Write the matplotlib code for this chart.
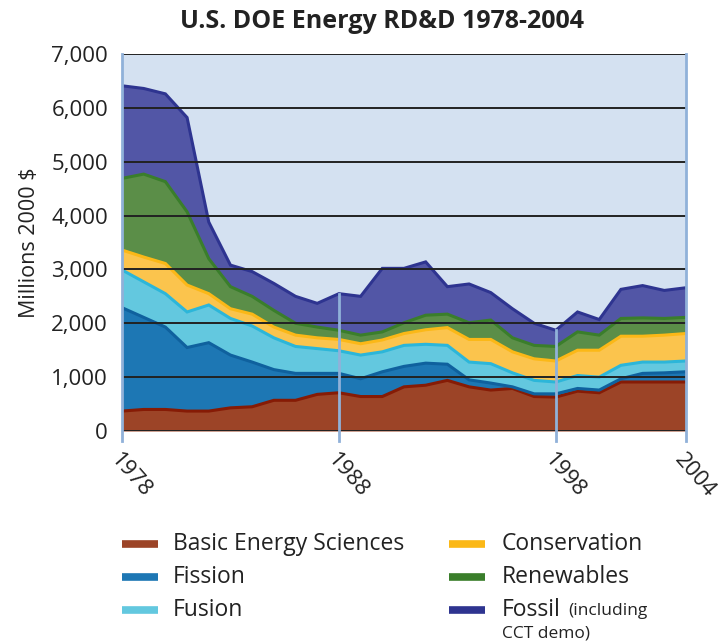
import matplotlib
matplotlib.use("Agg")
import matplotlib.pyplot as plt
import numpy as np
from matplotlib.lines import Line2D

plt.rcParams['font.family'] = ['Open Sans', 'DejaVu Sans']

years = list(range(1978, 2005))
series_names = ["Basic Energy Sciences", "Fission", "Fusion", "Conservation", "Renewables", "Fossil"]
basic = [370, 400, 400, 370, 370, 430, 450, 570, 570, 680, 710, 640, 640, 820, 850, 940, 820, 760, 790, 640, 630, 740, 710, 910, 910, 910, 910]
fission = [1920, 1710, 1530, 1180, 1270, 980, 830, 570, 500, 390, 360, 330, 460, 380, 410, 300, 130, 130, 30, 50, 60, 50, 50, 60, 160, 170, 190]
fusion = [700, 660, 620, 660, 700, 680, 670, 590, 500, 460, 420, 440, 370, 390, 350, 350, 330, 360, 260, 250, 220, 240, 240, 250, 210, 200, 200]
conservation = [370, 460, 560, 500, 210, 180, 220, 200, 210, 200, 210, 210, 220, 220, 270, 330, 420, 450, 390, 400, 390, 470, 500, 540, 480, 500, 510]
renewables = [1330, 1540, 1520, 1360, 650, 410, 330, 310, 220, 200, 170, 160, 150, 200, 270, 250, 310, 360, 260, 250, 270, 340, 280, 330, 340, 310, 300]
fossil = [1720, 1590, 1630, 1750, 680, 400, 460, 500, 500, 440, 680, 720, 1180, 1010, 990, 510, 720, 510, 540, 410, 300, 370, 290, 540, 600, 520, 550]
yticks = [0, 1000, 2000, 3000, 4000, 5000, 6000, 7000]
ytick_labels = ["0", "1,000", "2,000", "3,000", "4,000", "5,000", "6,000", "7,000"]
xticks = [1978, 1988, 1998, 2004]

fills = ["#9c4427", "#1d77b4", "#63c8df", "#fbc44d", "#5b8e48", "#5256a6"]
edges = ["#861b05", "#0f619e", "#2cb6d9", "#fbb817", "#3a7e2b", "#2e3490"]
legend_colors = ["#9c4427", "#1d77b4", "#63c8df", "#fbb817", "#3a7e2b", "#2e3490"]

fig = plt.figure(figsize=(7.27, 6.43), dpi=100)
W, H = 727, 643
ax = fig.add_axes([122 / W, 1 - 431 / H, (686 - 122) / W, (431 - 54) / H])
ax.set_facecolor("#d4e1f1")

data = np.array([basic, fission, fusion, conservation, renewables, fossil], dtype=float)
cum = np.cumsum(data, axis=0)
x = np.array(years)
prev = np.zeros(len(years))
for i in range(len(series_names)):
    ax.fill_between(x, prev, cum[i], color=fills[i], lw=0, zorder=2)
    prev = cum[i]
for i in range(len(series_names)):
    ax.plot(x, cum[i], color=edges[i], lw=2.2, zorder=3, solid_joinstyle='miter')

ax.set_xlim(1978, 2004)
ax.set_ylim(0, 7000)
for yv in yticks:
    ax.axhline(yv, color="#222222", lw=1.4, zorder=4)

total = cum[-1]
for xv in xticks:
    idx = years.index(xv)
    top = total[idx] if xv in (1988, 1998) else 7000
    ax.plot([xv, xv], [-180, top], color="#90b1d9", lw=2, zorder=5, clip_on=False)

for s in ax.spines.values():
    s.set_visible(False)
ax.set_yticks(yticks)
ax.set_yticklabels(ytick_labels, fontsize=16, color="#222222")
ax.tick_params(axis='y', length=0, pad=10)
ax.set_xticks(xticks)
ax.set_xticklabels([str(v) for v in xticks], rotation=-49, ha='left', va='top',
                   rotation_mode='anchor', fontsize=16, color="#222222")
ax.tick_params(axis='x', length=0, pad=13)

ax.set_ylabel("Millions 2000 $", fontsize=15.5, color="#222222", labelpad=8)

fig.text(382 / W, 1 - 21 / H, "U.S. DOE Energy RD&D 1978-2004", ha='center', va='center',
         fontsize=18, fontweight='bold', color="#222222")

# Legend
col_x = [(122, 173), (449, 502)]
row_y = [544, 577, 610]
renderer = fig.canvas.get_renderer()
for i, name in enumerate(series_names):
    c = i // 3
    r = i % 3
    hx, tx = col_x[c]
    yy = 1 - row_y[r] / H
    fig.add_artist(Line2D([hx / W, (hx + 36) / W], [yy, yy], color=legend_colors[i],
                          lw=5.5, solid_capstyle='butt', transform=fig.transFigure))
    t = fig.text(tx / W, yy, name, ha='left', va='center', fontsize=16.5, color="#222222")
    if name == "Fossil":
        bb = t.get_window_extent(renderer=renderer)
        fig.text(bb.x1 / W + 7 / W, yy - 0.002, "(including", ha='left', va='center',
                 fontsize=12.5, color="#222222")
        fig.text(tx / W, 1 - 633 / H, "CCT demo)", ha='left', va='center',
                 fontsize=12.5, color="#222222")

fig.savefig("out.png", dpi=100)
